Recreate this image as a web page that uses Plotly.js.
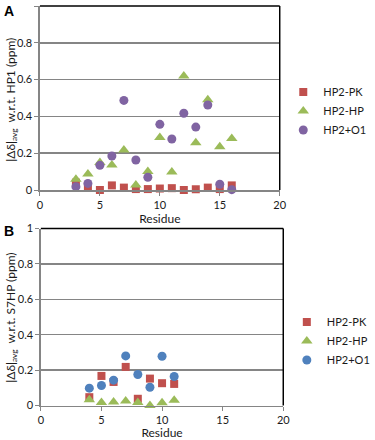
<!DOCTYPE html>
<html>
<head>
<meta charset="utf-8">
<script src="https://cdn.plot.ly/plotly-3.0.1.min.js"></script>
<style>
  html, body { margin: 0; padding: 0; background: #fff; }
  #chart { width: 375px; height: 440px; }
</style>
</head>
<body>
<div id="chart"></div>
<script>
// Panel A: chemical shift perturbation relative to HP1
const residuesA = [3, 4, 5, 6, 7, 8, 9, 10, 11, 12, 13, 14, 15, 16];
const pkA = [0.04, 0.02, 0.0, 0.025, 0.013, 0.005, 0.005, 0.008, 0.01, 0.0, 0.004, 0.013, 0.005, 0.025];
const hpA = [0.058, 0.087, 0.15, 0.136, 0.217, 0.027, 0.10, 0.286, 0.098, 0.62, 0.257, 0.49, 0.235, 0.28];
const o1A = [0.018, 0.036, 0.134, 0.185, 0.487, 0.163, 0.069, 0.357, 0.277, 0.417, 0.342, 0.462, 0.031, 0.002];

// Panel B: chemical shift perturbation relative to S7HP
const residuesB = [4, 5, 6, 7, 8, 9, 10, 11];
const pkB = [0.047, 0.167, 0.133, 0.218, 0.038, 0.152, 0.126, 0.122];
const hpB = [0.032, 0.017, 0.02, 0.026, 0.017, 0.0, 0.015, 0.03];
const o1B = [0.098, 0.113, 0.143, 0.28, 0.175, 0.103, 0.278, 0.164];

const seriesNames = ['HP2-PK', 'HP2-HP', 'HP2+O1'];
const xTicks = [0, 5, 10, 15, 20];
const yTicks = [0, 0.2, 0.4, 0.6, 0.8, 1];
const yTickText = ['0', '0.2', '0.4', '0.6', '0.8', '1'];

const RED = '#C0504D', GREEN = '#9BBB59', PURPLE = '#8064A2', BLUE = '#4F81BD';
const FONT = 'Lato, "Open Sans", sans-serif';
const TXT = '#1a1a1a';
const GRID = '#858585';

function trace(x, y, name, color, symbol, size, xa, ya, leg) {
  return {
    x: x, y: y, name: name, type: 'scatter', mode: 'markers',
    xaxis: xa, yaxis: ya, legend: leg, cliponaxis: false,
    marker: { color: color, symbol: symbol, size: size, line: { width: 0 } }
  };
}

const data = [
  trace(residuesA, pkA, seriesNames[0], RED, 'square', 8, 'x', 'y', 'legend'),
  trace(residuesA, hpA, seriesNames[1], GREEN, 'triangle-up', 10, 'x', 'y', 'legend'),
  trace(residuesA, o1A, seriesNames[2], PURPLE, 'circle', 9, 'x', 'y', 'legend'),
  trace(residuesB, pkB, seriesNames[0], RED, 'square', 8, 'x2', 'y2', 'legend2'),
  trace(residuesB, hpB, seriesNames[1], GREEN, 'triangle-up', 10, 'x2', 'y2', 'legend2'),
  trace(residuesB, o1B, seriesNames[2], BLUE, 'circle', 9, 'x2', 'y2', 'legend2')
];

function xAxis(domain, anchor) {
  return {
    domain: domain, anchor: anchor, range: [0, 20],
    tickvals: xTicks, ticktext: xTicks.map(String),
    showgrid: false, zeroline: false,
    showline: true, linecolor: GRID, linewidth: 1.5,
    ticks: 'outside', ticklen: 4, tickcolor: GRID,
    tickfont: { family: FONT, size: 11, color: TXT },
    title: { text: 'Residue', font: { family: FONT, size: 12, color: TXT }, standoff: 4 }
  };
}
function yAxis(domain, anchor) {
  return {
    domain: domain, anchor: anchor, range: [0, 1],
    tickvals: yTicks, ticktext: yTickText,
    showgrid: true, gridcolor: GRID, gridwidth: 1.5, zeroline: false,
    showline: true, linecolor: GRID, linewidth: 1.5,
    ticks: 'outside', ticklen: 4, tickcolor: GRID,
    tickfont: { family: FONT, size: 11, color: TXT }
  };
}

const W = 375, H = 440;
const layout = {
  width: W, height: H,
  margin: { l: 0, r: 0, t: 0, b: 0 },
  paper_bgcolor: '#fff', plot_bgcolor: '#fff',
  font: { family: FONT, color: TXT },
  xaxis: xAxis([45 / W, 315 / W], 'y'),
  yaxis: yAxis([1 - 190 / H, 1 - 6 / H], 'x'),
  xaxis2: xAxis([46 / W, 319 / W], 'y2'),
  yaxis2: yAxis([1 - 405.5 / H, 1 - 228.5 / H], 'x2'),
  legend: {
    x: 319 / W, y: 1 - 111 / H, xanchor: 'left', yanchor: 'middle',
    font: { family: FONT, size: 11, color: TXT }, bgcolor: 'rgba(0,0,0,0)',
    itemwidth: 30, tracegroupgap: 0
  },
  legend2: {
    x: 323 / W, y: 1 - 341 / H, xanchor: 'left', yanchor: 'middle',
    font: { family: FONT, size: 11, color: TXT }, bgcolor: 'rgba(0,0,0,0)',
    itemwidth: 30, tracegroupgap: 0
  },
  shapes: [
    // black frame on the top and right of each panel
    { type: 'line', xref: 'x domain', yref: 'y domain', x0: 0, x1: 1, y0: 1, y1: 1, line: { color: '#000', width: 1.5 } },
    { type: 'line', xref: 'x domain', yref: 'y domain', x0: 1, x1: 1, y0: 0, y1: 1, line: { color: '#000', width: 1.5 } },
    { type: 'line', xref: 'x2 domain', yref: 'y2 domain', x0: 0, x1: 1, y0: 1, y1: 1, line: { color: '#000', width: 1.5 } },
    { type: 'line', xref: 'x2 domain', yref: 'y2 domain', x0: 1, x1: 1, y0: 0, y1: 1, line: { color: '#000', width: 1.5 } }
  ],
  annotations: [
    { text: '<b>A</b>', xref: 'paper', yref: 'paper', x: 2 / W, y: 1 - 1 / H, xanchor: 'left', yanchor: 'top', showarrow: false, font: { family: 'Liberation Sans, Arial, sans-serif', size: 14, color: '#000' } },
    { text: '<b>B</b>', xref: 'paper', yref: 'paper', x: 2 / W, y: 1 - 221 / H, xanchor: 'left', yanchor: 'top', showarrow: false, font: { family: 'Liberation Sans, Arial, sans-serif', size: 14, color: '#000' } },
    { text: '|Δδ|<sub>avg</sub>  w.r.t. HP1 (ppm)', xref: 'paper', yref: 'paper', x: 12 / W, y: 1 - 100 / H, xanchor: 'center', yanchor: 'middle', textangle: -90, showarrow: false, font: { family: FONT, size: 12, color: TXT } },
    { text: '|Δδ|<sub>avg</sub>  w.r.t. S7HP (ppm)', xref: 'paper', yref: 'paper', x: 12 / W, y: 1 - 318 / H, xanchor: 'center', yanchor: 'middle', textangle: -90, showarrow: false, font: { family: FONT, size: 12, color: TXT } }
  ]
};

Plotly.newPlot('chart', data, layout, { displayModeBar: false, staticPlot: true });
</script>
</body>
</html>
